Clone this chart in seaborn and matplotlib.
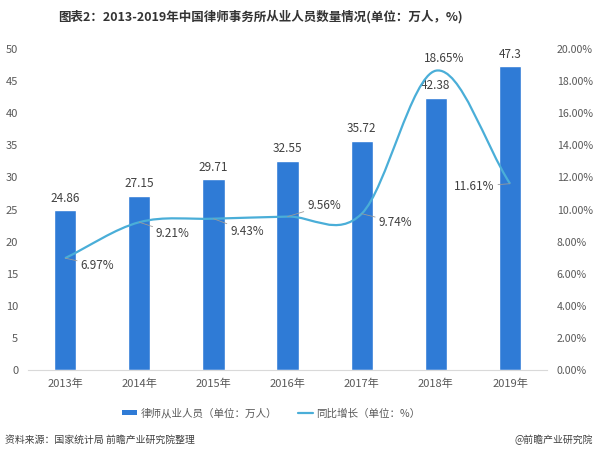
import numpy as np
import pandas as pd
import seaborn as sns
import matplotlib.pyplot as plt
from matplotlib.path import Path
from matplotlib.patches import PathPatch, Patch
from matplotlib.lines import Line2D

years = ["2013年", "2014年", "2015年", "2016年", "2017年", "2018年", "2019年"]
lawyers = [24.86, 27.15, 29.71, 32.55, 35.72, 42.38, 47.3]
growth = [6.97, 9.21, 9.43, 9.56, 9.74, 18.65, 11.61]

bar_color = "#2f7bd6"
line_color = "#4aaed8"
txt = "#404040"

sns.set_style("white")
plt.rcParams['font.family'] = ['Noto Sans CJK SC', 'DejaVu Sans']

fig = plt.figure(figsize=(5.96, 4.58), dpi=100)
ax = fig.add_axes([0.047, 0.192, 0.871, 0.701])

df = pd.DataFrame({"year": years, "value": lawyers})
sns.barplot(data=df, x="year", y="value", color=bar_color, width=0.3,
            saturation=1, ax=ax)
ax.set_xlim(-0.5, 6.5)
ax.set_ylim(0, 50)
ax.set_yticks(range(0, 51, 5))
ax.set_xlabel("")
ax.set_ylabel("")
ax.bar_label(ax.containers[0], labels=[f"{v:g}" for v in lawyers],
             padding=4, fontsize=8.5, color=txt)
ax.tick_params(axis="both", length=0, labelsize=8, labelcolor="#595959")
ax.tick_params(axis="y", pad=7)
ax.tick_params(axis="x", pad=6)
for s in ["top", "left", "right"]:
    ax.spines[s].set_visible(False)
ax.spines["bottom"].set_color("#d9d9d9")

# growth line on the right axis, drawn as a smooth bezier through the points
ax2 = ax.twinx()
ax2.set_ylim(0, 20)
ax2.set_yticks(range(0, 21, 2))
ax2.set_yticklabels([f"{t:.2f}%" for t in range(0, 21, 2)])
ax2.tick_params(axis="y", length=0, labelsize=7.6, labelcolor="#595959", pad=7)
for s in ["top", "left", "right", "bottom"]:
    ax2.spines[s].set_visible(False)

x = np.arange(len(growth), dtype=float)
y = np.array(growth, dtype=float)
m = np.zeros(len(y))
m[1:-1] = (y[2:] - y[:-2]) / 2
m[0] = y[1] - y[0]
m[-1] = y[-1] - y[-2]
verts = [(x[0], y[0])]
codes = [Path.MOVETO]
for i in range(len(y) - 1):
    verts += [(x[i] + 1 / 3, y[i] + m[i] / 3),
              (x[i + 1] - 1 / 3, y[i + 1] - m[i + 1] / 3),
              (x[i + 1], y[i + 1])]
    codes += [Path.CURVE4] * 3
ax2.add_patch(PathPatch(Path(verts, codes), fill=False, edgecolor=line_color,
                        lw=1.6, zorder=3))

# label offsets in points (dx, dy, ha, leader line)
offsets = [(11, -5, "left", True), (12, -8, "left", True), (12, -9, "left", True),
           (14, 8, "left", True), (12, -6, "left", True), (6, 9, "center", False),
           (-11, -2, "right", True)]
for i, (g, (dx, dy, ha, lead)) in enumerate(zip(growth, offsets)):
    props = dict(arrowstyle="-", color="#9a9a9a", lw=0.6, shrinkA=0, shrinkB=0) if lead else None
    ax2.annotate(f"{g:.2f}%", xy=(i, g), xytext=(dx, dy), textcoords="offset points",
                 ha=ha, va="center", fontsize=8.5, color=txt, arrowprops=props)

fig.text(0.437, 0.963, "图表2：2013-2019年中国律师事务所从业人员数量情况(单位：万人，%)",
         ha="center", va="center", fontsize=9, fontweight="bold", color="#333333")

handles = [Patch(facecolor=bar_color, edgecolor="none"),
           Line2D([0], [0], color=line_color, lw=1.6)]
fig.legend(handles, ["律师从业人员（单位：万人）", "同比增长（单位：%）"],
           loc="center", bbox_to_anchor=(0.455, 0.098), ncol=2, frameon=False,
           fontsize=7.6, labelcolor="#595959", handlelength=1.4, handleheight=0.35,
           handletextpad=0.3, columnspacing=2.0)

fig.text(0.008, 0.039, "资料来源：国家统计局 前瞻产业研究院整理",
         ha="left", va="center", fontsize=7.1, color="#404040")
fig.text(0.995, 0.039, "@前瞻产业研究院", ha="right", va="center",
         fontsize=7.1, color="#404040")

fig.savefig("out.png", dpi=100)
